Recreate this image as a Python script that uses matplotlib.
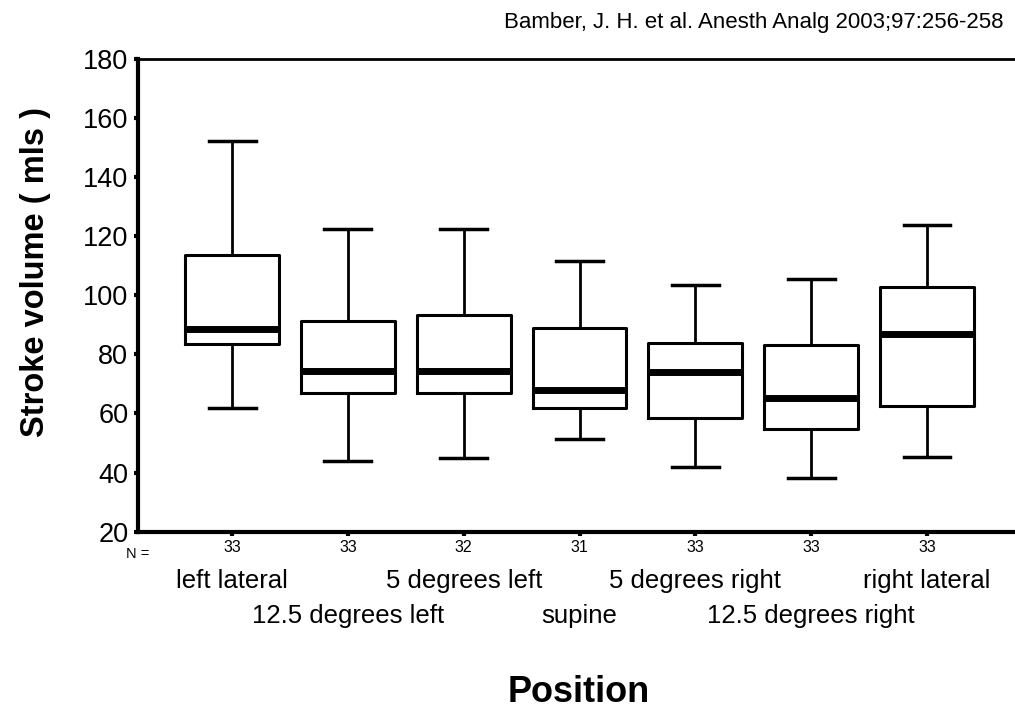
import matplotlib
matplotlib.use("Agg")
import matplotlib.pyplot as plt

plt.rcParams['font.family'] = ['Liberation Sans', 'DejaVu Sans']

# valores (mls)
posiciones = ['left lateral', '12.5 degrees left', '5 degrees left', 'supine',
              '5 degrees right', '12.5 degrees right', 'right lateral']
n_casos = ['33', '33', '32', '31', '33', '33', '33']
bigote_inf = [62, 43.8, 45.1, 51.3, 42, 38.1, 45.4]
cuartil_1 = [83.4, 67, 67, 61.7, 58.6, 54.9, 62.5]
mediana = [88.6, 74.3, 74.3, 67.8, 74, 65.1, 87]
cuartil_3 = [113.6, 91.4, 93.3, 88.8, 84, 83, 102.9]
bigote_sup = [152.3, 122.3, 122.5, 111.6, 103.4, 105.6, 123.8]

stats = []
for i in range(len(posiciones)):
    stats.append({'label': n_casos[i], 'whislo': bigote_inf[i], 'q1': cuartil_1[i],
                  'med': mediana[i], 'q3': cuartil_3[i], 'whishi': bigote_sup[i],
                  'fliers': []})

fig = plt.figure(figsize=(10.15, 7.08), dpi=100)
ax = fig.add_axes([0.136, 0.249, 0.864, 0.668])

x = list(range(1, len(posiciones) + 1))
ax.bxp(stats, positions=x, widths=0.81, showfliers=False,
       boxprops=dict(color='black', linewidth=2.2),
       whiskerprops=dict(color='black', linewidth=2),
       capprops=dict(color='black', linewidth=2.5),
       medianprops=dict(color='black', linewidth=5, solid_capstyle='butt'))

ax.set_xlim(0.188, 7.76)
ax.set_ylim(20, 180)
ax.set_yticks(range(20, 181, 20))
ax.tick_params(axis='y', labelsize=19.5, length=3, width=3, pad=4, colors='black')
ax.set_xticks(x)
ax.set_xticklabels(n_casos)
ax.tick_params(axis='x', labelsize=11.5, length=3, width=3, pad=3)

ax.spines['right'].set_visible(False)
ax.spines['left'].set_linewidth(3)
ax.spines['bottom'].set_linewidth(3)
ax.spines['top'].set_linewidth(2)

ax.text(0.188, -0.048, 'N =', transform=ax.get_xaxis_transform(), ha='center',
        va='center', fontsize=10.5)

# etiquetas de posicion en dos filas alternadas
for i, nombre in enumerate(posiciones):
    fila_y = -0.1195 if i % 2 == 0 else -0.1934
    ax.text(x[i], fila_y, nombre, transform=ax.get_xaxis_transform(),
            ha='center', va='baseline', fontsize=18.5)

fig.text(36 / 1015, 1 - 272 / 708, 'Stroke volume ( mls )', rotation=90,
         ha='center', va='center', fontsize=23.5, fontweight='bold')
fig.text(579 / 1015, 1 - 692 / 708, 'Position', ha='center', va='center',
         fontsize=26, fontweight='bold')
fig.text(1003 / 1015, 1 - 28 / 708, 'Bamber, J. H. et al. Anesth Analg 2003;97:256-258',
         ha='right', va='baseline', fontsize=16)

fig.savefig('out.png', dpi=100)
